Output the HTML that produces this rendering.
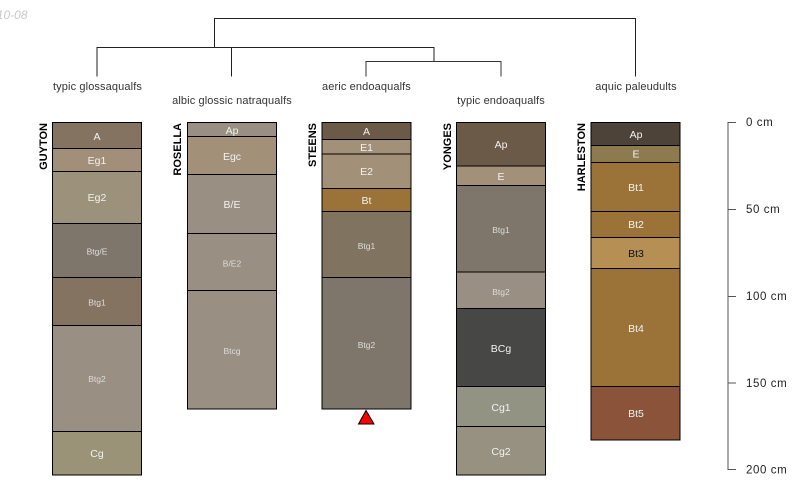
<!DOCTYPE html>
<html><head><meta charset="utf-8"><style>
html,body{margin:0;padding:0;background:#fff}
svg{display:block}
text{font-family:"Liberation Sans",sans-serif}
.t{font-size:11px;letter-spacing:.12px;fill:#333;text-anchor:middle;dominant-baseline:central;transform:translateY(1px)}
.n{font-size:11px;font-weight:bold;fill:#000;text-anchor:end}
.h{fill:#f2f2f2;text-anchor:middle;dominant-baseline:central;font-size:10.5px;transform:translateY(1px)}
.s{font-size:8.5px;fill:#ddd}
.d{font-size:11.5px;letter-spacing:.6px;fill:#222;dominant-baseline:central;transform:translateY(.5px)}
rect{stroke:#000;stroke-width:1}
</style></head><body>
<svg width="800" height="500" viewBox="0 0 800 500" xmlns="http://www.w3.org/2000/svg">
<text x="27.500" y="19" font-size="12" font-style="italic" fill="#c8c8c8" text-anchor="end">10-08</text>
<g fill="none" stroke="#000" stroke-width="1">
<path d="M214.5 47V18.5H635.5V76.5" stroke="#222"/>
<path d="M97 76.5V47.5H434V61.5M231.5 47.5V76.5" stroke="#222"/>
<path d="M366 76.5V61.5H501V76.5" stroke="#333"/>
</g>
<text class="t" x="97.5" y="86">typic glossaqualfs</text>
<text class="t" x="232" y="100">albic glossic natraqualfs</text>
<text class="t" x="366.500" y="86">aeric endoaqualfs</text>
<text class="t" x="501" y="100">typic endoaqualfs</text>
<text class="t" x="636" y="86">aquic paleudults</text>

<!-- Guyton -->
<rect x="52.500" y="122.500" width="89" height="26" fill="#857361"/>
<rect x="52.500" y="148.500" width="89" height="23" fill="#a18f7a"/>
<rect x="52.500" y="171.500" width="89" height="52" fill="#9c917a"/>
<rect x="52.500" y="223.500" width="89" height="54" fill="#7e766b"/>
<rect x="52.500" y="277.500" width="89" height="48" fill="#857361"/>
<rect x="52.500" y="325.500" width="89" height="106" fill="#998f82"/>
<rect x="52.500" y="431.500" width="89" height="43.500" fill="#9a9378"/>
<text class="n" transform="translate(47,123) rotate(-90)">GUYTON</text>
<text class="h" x="97" y="136">A</text>
<text class="h" x="97" y="160">Eg1</text>
<text class="h" x="97" y="197">Eg2</text>
<text class="h s" x="97" y="250.500">Btg/E</text>
<text class="h s" x="97" y="301.500">Btg1</text>
<text class="h s" x="97" y="378">Btg2</text>
<text class="h" x="97" y="453">Cg</text>

<!-- Rosella -->
<rect x="187.500" y="122.500" width="89" height="14" fill="#998f82"/>
<rect x="187.500" y="136.500" width="89" height="38" fill="#a39079"/>
<rect x="187.500" y="174.500" width="89" height="59" fill="#998f82"/>
<rect x="187.500" y="233.500" width="89" height="57" fill="#998f82"/>
<rect x="187.500" y="290.500" width="89" height="118.500" fill="#998f82"/>
<text class="n" transform="translate(181,123) rotate(-90)">ROSELLA</text>
<text class="h" x="232" y="130">Ap</text>
<text class="h" x="232" y="156">Egc</text>
<text class="h" x="232" y="204">B/E</text>
<text class="h s" x="232" y="262.500">B/E2</text>
<text class="h s" x="232" y="350">Btcg</text>

<!-- Steens -->
<rect x="322" y="122.500" width="89" height="17" fill="#6b5a47"/>
<rect x="322" y="139.500" width="89" height="14.500" fill="#a39079"/>
<rect x="322" y="154" width="89" height="34.500" fill="#a39079"/>
<rect x="322" y="188.500" width="89" height="23" fill="#9b7338"/>
<rect x="322" y="211.500" width="89" height="66" fill="#807460"/>
<rect x="322" y="277.500" width="89" height="131.500" fill="#7e766b"/>
<text class="n" transform="translate(316,123) rotate(-90)">STEENS</text>
<text class="h" x="366.500" y="131">A</text>
<text class="h" x="366.500" y="147">E1</text>
<text class="h" x="366.500" y="171">E2</text>
<text class="h" x="366.500" y="200">Bt</text>
<text class="h s" x="366.500" y="245">Btg1</text>
<text class="h s" x="366.500" y="344">Btg2</text>
<polygon points="366,410.500 358.500,424 374,424" fill="#f00" stroke="#000" stroke-width="1"/>

<!-- Yonges -->
<rect x="456.500" y="122.500" width="89" height="43.500" fill="#6b5a47"/>
<rect x="456.500" y="166" width="89" height="19.500" fill="#a39079"/>
<rect x="456.500" y="185.500" width="89" height="86.500" fill="#7f766b"/>
<rect x="456.500" y="272" width="89" height="36.500" fill="#998f82"/>
<rect x="456.500" y="308.500" width="89" height="78" fill="#474846"/>
<rect x="456.500" y="386.500" width="89" height="40" fill="#939383"/>
<rect x="456.500" y="426.500" width="89" height="48.500" fill="#969180"/>
<text class="n" transform="translate(451,123) rotate(-90)">YONGES</text>
<text class="h" x="501" y="144">Ap</text>
<text class="h" x="501" y="176">E</text>
<text class="h s" x="501" y="229">Btg1</text>
<text class="h s" x="501" y="291">Btg2</text>
<text class="h" x="501" y="348">BCg</text>
<text class="h" x="501" y="407">Cg1</text>
<text class="h" x="501" y="451">Cg2</text>

<!-- Harleston -->
<rect x="591" y="122.500" width="89" height="23" fill="#4d4339"/>
<rect x="591" y="145.500" width="89" height="17" fill="#8d7a4f"/>
<rect x="591" y="162.500" width="89" height="49" fill="#9b7338"/>
<rect x="591" y="211.500" width="89" height="26" fill="#9b7338"/>
<rect x="591" y="237.500" width="89" height="31" fill="#b68f55"/>
<rect x="591" y="268.500" width="89" height="118" fill="#9b7338"/>
<rect x="591" y="386.500" width="89" height="53.500" fill="#8a533a"/>
<text class="n" transform="translate(585,123) rotate(-90)">HARLESTON</text>
<text class="h" x="636" y="134">Ap</text>
<text class="h" x="636" y="153.500">E</text>
<text class="h" x="636" y="187">Bt1</text>
<text class="h" x="636" y="224">Bt2</text>
<text class="h" x="636" y="253" style="fill:#111">Bt3</text>
<text class="h" x="636" y="328">Bt4</text>
<text class="h" x="636" y="413">Bt5</text>

<!-- Scale -->
<path d="M736 122.500H728V469.500H736M728 209.500H736M728 296.500H736M728 383H736" fill="none" stroke="#555" stroke-width="1"/>
<text class="d" x="746" y="122.500">0 cm</text>
<text class="d" x="746" y="209.500">50 cm</text>
<text class="d" x="746" y="296.500">100 cm</text>
<text class="d" x="746" y="383.500">150 cm</text>
<text class="d" x="746" y="470">200 cm</text>
</svg>
</body></html>
